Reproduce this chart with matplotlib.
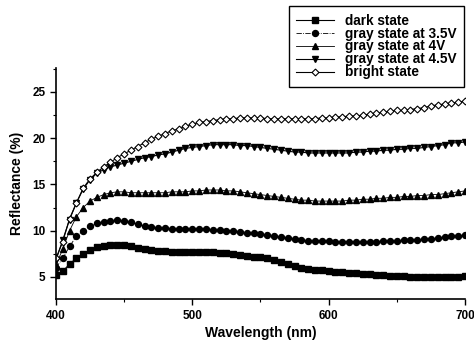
import numpy as np
import matplotlib
matplotlib.use("Agg")
import matplotlib.pyplot as plt
from matplotlib.ticker import MultipleLocator

plt.rcParams['font.family'] = ['Liberation Sans', 'DejaVu Sans']
plt.rcParams['font.weight'] = 'bold'

wavelength = np.arange(400, 701, 5)

dark = [5.2, 5.6, 6.4, 7.0, 7.5, 7.9, 8.2, 8.3, 8.4, 8.5,
        8.4, 8.3, 8.1, 8.0, 7.9, 7.8, 7.8, 7.7, 7.7, 7.7,
        7.7, 7.7, 7.7, 7.7, 7.6, 7.6, 7.5, 7.4, 7.3, 7.2,
        7.1, 7.0, 6.8, 6.6, 6.4, 6.2, 6.0, 5.9, 5.8, 5.7,
        5.6, 5.5, 5.5, 5.4, 5.4, 5.3, 5.3, 5.2, 5.2, 5.1,
        5.1, 5.1, 5.0, 5.0, 5.0, 5.0, 5.0, 5.0, 5.0, 5.0, 5.1]
gray35 = [6.0, 7.0, 8.3, 9.4, 10.0, 10.5, 10.8, 10.9, 11.0, 11.1,
          11.0, 10.9, 10.7, 10.5, 10.4, 10.3, 10.3, 10.2, 10.2, 10.2,
          10.2, 10.2, 10.2, 10.1, 10.1, 10.0, 10.0, 9.9, 9.8, 9.7,
          9.6, 9.5, 9.4, 9.3, 9.2, 9.1, 9.0, 8.9, 8.9, 8.9,
          8.9, 8.8, 8.8, 8.8, 8.8, 8.8, 8.8, 8.8, 8.9, 8.9,
          8.9, 9.0, 9.0, 9.0, 9.1, 9.1, 9.2, 9.3, 9.4, 9.4, 9.5]
gray4 = [6.3, 8.0, 10.0, 11.5, 12.5, 13.2, 13.6, 13.9, 14.1, 14.2,
         14.2, 14.1, 14.1, 14.1, 14.1, 14.1, 14.1, 14.2, 14.2, 14.2,
         14.3, 14.3, 14.4, 14.4, 14.4, 14.3, 14.3, 14.2, 14.1, 14.0,
         13.9, 13.8, 13.7, 13.6, 13.5, 13.4, 13.3, 13.3, 13.2, 13.2,
         13.2, 13.2, 13.2, 13.3, 13.3, 13.4, 13.4, 13.5, 13.5, 13.6,
         13.6, 13.7, 13.7, 13.8, 13.8, 13.9, 13.9, 14.0, 14.1, 14.2, 14.3]
gray45 = [6.8, 9.0, 11.2, 13.0, 14.5, 15.5, 16.2, 16.6, 16.9, 17.1,
          17.3, 17.5, 17.7, 17.9, 18.0, 18.2, 18.3, 18.5, 18.7, 18.9,
          19.0, 19.1, 19.2, 19.3, 19.3, 19.3, 19.3, 19.2, 19.2, 19.1,
          19.0, 18.9, 18.8, 18.7, 18.6, 18.5, 18.5, 18.4, 18.4, 18.4,
          18.4, 18.4, 18.4, 18.4, 18.5, 18.5, 18.6, 18.6, 18.7, 18.7,
          18.8, 18.8, 18.9, 18.9, 19.0, 19.1, 19.2, 19.3, 19.5, 19.5, 19.6]
bright = [7.0, 8.8, 11.3, 13.0, 14.6, 15.6, 16.3, 16.9, 17.4, 17.9,
          18.3, 18.7, 19.1, 19.5, 19.9, 20.2, 20.5, 20.8, 21.0, 21.3,
          21.5, 21.7, 21.8, 21.9, 22.0, 22.1, 22.1, 22.2, 22.2, 22.2,
          22.2, 22.1, 22.1, 22.1, 22.1, 22.1, 22.1, 22.1, 22.1, 22.2,
          22.2, 22.3, 22.3, 22.4, 22.4, 22.5, 22.6, 22.7, 22.8, 22.9,
          23.0, 23.0, 23.1, 23.2, 23.3, 23.5, 23.6, 23.7, 23.8, 23.9, 24.0]

labels = ["dark state", "gray state at 3.5V", "gray state at 4V",
          "gray state at 4.5V", "bright state"]

fig = plt.figure(figsize=(4.74, 3.43), dpi=100)
ax = fig.add_axes([0.118, 0.128, 0.863, 0.674])

ax.plot(wavelength, dark, 'k-', marker='s', ms=3.8, lw=0.8, label=labels[0])
ax.plot(wavelength, gray35, 'k-.', marker='o', ms=4.3, lw=0.6, label=labels[1])
ax.plot(wavelength, gray4, 'k-', marker='^', ms=4.3, lw=0.6, label=labels[2])
ax.plot(wavelength, gray45, 'k-', marker='v', ms=4.3, lw=0.8, label=labels[3])
ax.plot(wavelength, bright, 'k-', marker='D', ms=3.5, mfc='white', mec='k',
        mew=0.8, lw=0.8, label=labels[4])

ax.set_xlim(400, 700)
ax.set_ylim(2.6, 27.6)
ax.xaxis.set_major_locator(MultipleLocator(100))
ax.xaxis.set_minor_locator(MultipleLocator(50))
ax.yaxis.set_major_locator(MultipleLocator(5))
ax.yaxis.set_minor_locator(MultipleLocator(2.5))
ax.tick_params(which='major', direction='out', length=4, width=1, labelsize=8.5)
ax.tick_params(which='minor', direction='out', length=2, width=0.8)

for side in ['top', 'right']:
    ax.spines[side].set_visible(False)
for side in ['left', 'bottom']:
    ax.spines[side].set_linewidth(1.2)

ax.set_xlabel("Wavelength (nm)", fontsize=10, fontweight='bold', labelpad=3)
ax.set_ylabel("Reflectance (%)", fontsize=10, fontweight='bold', labelpad=6)

leg = fig.legend(loc='upper right', bbox_to_anchor=(0.985, 0.99),
                 fontsize=9.8, handlelength=2.8, labelspacing=-0.08,
                 borderpad=0.55, borderaxespad=0.2, handletextpad=0.8,
                 fancybox=False, framealpha=1, edgecolor='k')
leg.get_frame().set_linewidth(1.0)

fig.savefig("out.png", dpi=100)
